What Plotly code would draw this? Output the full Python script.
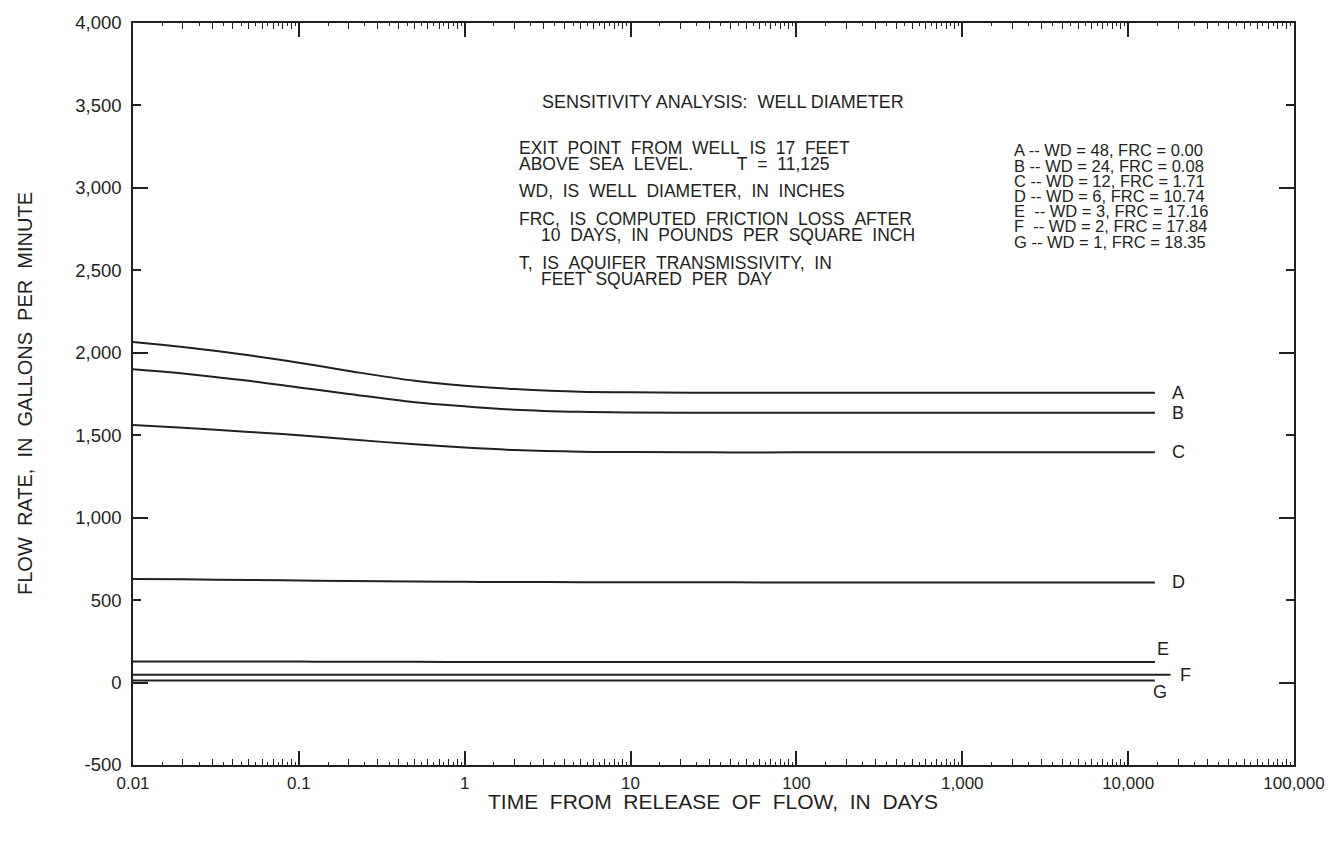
import numpy as np
import plotly.graph_objects as go

# Time from release of flow, in days
time_days = [0.01, 0.02, 0.05, 0.1, 0.2, 0.5, 1, 2, 5, 10, 30, 100, 1000, 10000, 14500]
time_days_f = [0.01, 0.02, 0.05, 0.1, 0.2, 0.5, 1, 2, 5, 10, 30, 100, 1000, 10000, 18000]

# Flow rate, in gallons per minute, for each well diameter
flow_a = [2065, 2035, 1985, 1940, 1890, 1830, 1800, 1780, 1763, 1760, 1758, 1758, 1758, 1758, 1758]
flow_b = [1900, 1875, 1830, 1790, 1750, 1700, 1675, 1655, 1642, 1638, 1636, 1636, 1636, 1636, 1636]
flow_c = [1562, 1545, 1520, 1500, 1475, 1445, 1425, 1410, 1400, 1398, 1396, 1396, 1396, 1396, 1396]
flow_d = [628, 626, 622, 619, 616, 613, 611, 610, 609, 608, 608, 607, 607, 607, 607]
flow_e = [128, 128, 127, 127, 126, 126, 125, 125, 125, 125, 125, 125, 125, 125, 125]
flow_f = [48, 48, 48, 48, 48, 48, 48, 48, 48, 48, 48, 48, 48, 48, 48]
flow_g = [12, 12, 12, 12, 12, 12, 12, 12, 12, 12, 12, 12, 12, 12, 12]

curve_labels = ["A", "B", "C", "D", "E", "F", "G"]

legend_lines = [
    "A -- WD = 48, FRC = 0.00",
    "B -- WD = 24, FRC = 0.08",
    "C -- WD = 12, FRC = 1.71",
    "D -- WD = 6, FRC = 10.74",
    "E\u00a0 -- WD = 3, FRC = 17.16",
    "F\u00a0 -- WD = 2, FRC = 17.84",
    "G -- WD = 1, FRC = 18.35",
]

x_tick_vals = [0.01, 0.1, 1, 10, 100, 1000, 10000, 100000]
x_tick_text = ["0.01", "0.1", "1", "10", "100", "1,000", "10,000", "100,000"]
y_tick_vals = [-500, 0, 500, 1000, 1500, 2000, 2500, 3000, 3500, 4000]
y_tick_text = ["-500", "0", "500", "1,000", "1,500", "2,000", "2,500", "3,000", "3,500", "4,000"]

INK = "#231f20"
FONT = "Liberation Sans, Arial, Helvetica, sans-serif"

series = [
    (time_days, flow_a), (time_days, flow_b), (time_days, flow_c), (time_days, flow_d),
    (time_days, flow_e), (time_days_f, flow_f), (time_days, flow_g),
]

fig = go.Figure()
for name, (xs, ys) in zip(curve_labels, series):
    fig.add_trace(go.Scatter(x=xs, y=ys, mode="lines", name=name, line=dict(color=INK, width=2),
                             line_shape="spline", showlegend=False, hoverinfo="skip"))

# Curve letters at the line ends (xshift / yshift in pixels)
label_offsets = {"A": (15, 0), "B": (15, 0), "C": (15, 0), "D": (15, 0),
                 "E": (0, 13), "F": (8, 0), "G": (-4, -11)}
for name, (xs, ys) in zip(curve_labels, series):
    dx, dy = label_offsets[name]
    fig.add_annotation(x=np.log10(xs[-1]), y=ys[-1], text=name, showarrow=False,
                       xanchor="left", yanchor="middle", xshift=dx, yshift=dy,
                       font=dict(family=FONT, size=18, color=INK))

# Half-step sub-minor ticks for the log axis
sub_ticks = [m * 10.0 ** e for e in range(-2, 5) for m in np.arange(1.5, 10, 1.0)]

fig.update_layout(
    width=1344, height=846,
    margin=dict(l=133, r=50, t=19, b=81),
    paper_bgcolor="white", plot_bgcolor="white",
    font=dict(family=FONT, color=INK),
    xaxis=dict(type="log", range=[-2, 5], tickvals=x_tick_vals, ticktext=x_tick_text,
               ticks="inside", ticklen=14, tickwidth=1.5, tickcolor=INK,
               showline=True, linecolor=INK, linewidth=1.5, mirror="allticks",
               showgrid=False, zeroline=False, tickfont=dict(size=17, color=INK),
               ticklabelstandoff=2,
               minor=dict(ticks="inside", ticklen=6, tickcolor=INK, tickwidth=1, dtick="D1",
                          showgrid=False)),
    xaxis2=dict(type="log", range=[-2, 5], overlaying="x", tickvals=sub_ticks, ticks="inside",
                ticklen=3, tickcolor=INK, tickwidth=1, showticklabels=False, showline=False,
                mirror="allticks", showgrid=False, zeroline=False),
    yaxis=dict(range=[-500, 4000], tickvals=y_tick_vals, ticktext=y_tick_text,
               ticks="inside", ticklen=8, tickwidth=1.5, tickcolor=INK,
               showline=True, linecolor=INK, linewidth=1.5, mirror="allticks",
               showgrid=False, zeroline=False, tickfont=dict(size=18.5, color=INK),
               ticklabelstandoff=6),
    yaxis2=dict(range=[-500, 4000], overlaying="y", tickvals=[0, 1000, 2000, 3000, 4000],
                ticks="inside", ticklen=15, tickwidth=1.5, tickcolor=INK, showticklabels=False,
                showline=False, mirror="allticks", showgrid=False, zeroline=False),
)

# Invisible trace so that the secondary tick axes are drawn
fig.add_trace(go.Scatter(x=[0.01], y=[0], xaxis="x2", yaxis="y2", mode="markers",
                         marker=dict(opacity=0), showlegend=False, hoverinfo="skip"))


def px_x(px):
    return (px - 133) / 1161


def px_y(py):
    return (765 - py) / 746


def note(text, px, py, size=18, anchor="left", angle=0):
    fig.add_annotation(xref="paper", yref="paper", x=px_x(px), y=px_y(py), text=text,
                       showarrow=False, xanchor=anchor, yanchor="middle", textangle=angle,
                       font=dict(family=FONT, size=size, color=INK))


sp = "\u00a0"
note("SENSITIVITY ANALYSIS:" + sp * 2 + "WELL DIAMETER", 540, 98)
note(f"EXIT{sp}{sp}POINT{sp}{sp}FROM{sp}{sp}WELL{sp}{sp}IS{sp}{sp}17{sp}{sp}FEET", 517, 145, size=17.5)
note(f"ABOVE{sp}{sp}SEA{sp}{sp}LEVEL.{sp * 9}T{sp}{sp}={sp}{sp}11,125", 517, 161, size=17.5)
note(f"WD,{sp}{sp}IS{sp}{sp}WELL{sp}{sp}DIAMETER,{sp}{sp}IN{sp}{sp}INCHES", 517, 188, size=17.5)
note(f"FRC,{sp}{sp}IS{sp}{sp}COMPUTED{sp}{sp}FRICTION{sp}{sp}LOSS{sp}{sp}AFTER", 517, 216, size=17.5)
note(f"10{sp}{sp}DAYS,{sp}{sp}IN{sp}{sp}POUNDS{sp}{sp}PER{sp}{sp}SQUARE{sp}{sp}INCH", 539, 232, size=17.5)
note(f"T,{sp}{sp}IS{sp}{sp}AQUIFER{sp}{sp}TRANSMISSIVITY,{sp}{sp}IN", 517, 260, size=17.5)
note(f"FEET{sp}{sp}SQUARED{sp}{sp}PER{sp}{sp}DAY", 539, 276, size=17.5)

for i, line in enumerate(legend_lines):
    note(line, 1012, 147 + i * 15.3, size=16.5)

# Axis titles
note(f"TIME{sp}{sp}FROM{sp}{sp}RELEASE{sp}{sp}OF{sp}{sp}FLOW,{sp}{sp}IN{sp}{sp}DAYS", 713, 802,
     size=21, anchor="center")
note(f"FLOW{sp}{sp}RATE,{sp}{sp}IN{sp}{sp}GALLONS{sp}{sp}PER{sp}{sp}MINUTE", 25, 392,
     size=20, anchor="center", angle=-90)

fig.write_html("out.html")
